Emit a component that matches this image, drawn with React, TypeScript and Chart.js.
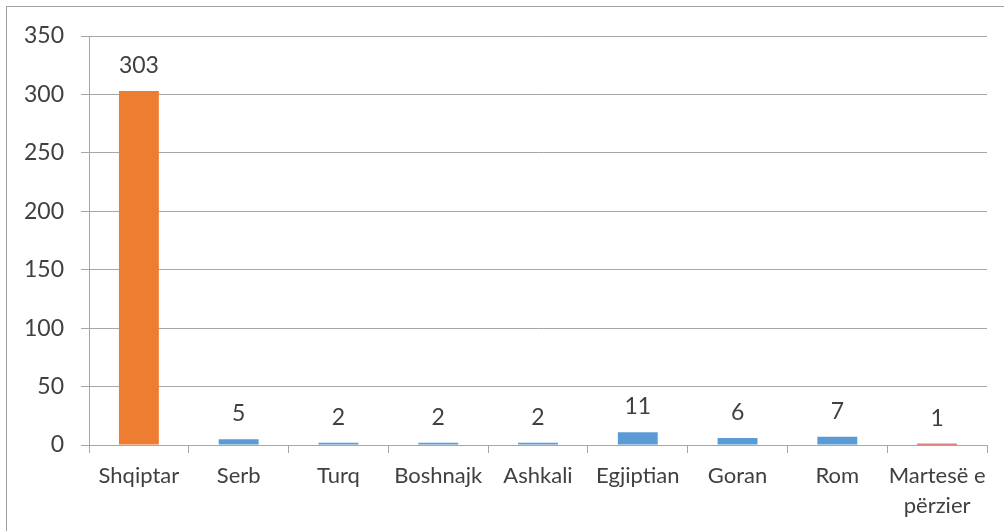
import React, { useEffect, useRef } from "react";
import { Chart, registerables } from "chart.js";

Chart.register(...registerables);

const categories: (string | string[])[] = [
  "Shqiptar",
  "Serb",
  "Turq",
  "Boshnajk",
  "Ashkali",
  "Egjiptian",
  "Goran",
  "Rom",
  ["Martesë e", "përzier"],
];
const values: number[] = [303, 5, 2, 2, 2, 11, 6, 7, 1];
const barColors: string[] = [
  "#ED7D31",
  "#5B9BD5",
  "#5B9BD5",
  "#5B9BD5",
  "#5B9BD5",
  "#5B9BD5",
  "#5B9BD5",
  "#5B9BD5",
  "#C00000",
];
const yTicks: number[] = [0, 50, 100, 150, 200, 250, 300, 350];

const FONT = "Lato, 'Open Sans', sans-serif";

const valueLabels = {
  id: "valueLabels",
  afterDatasetsDraw(chart: any) {
    const ctx = chart.ctx;
    const meta = chart.getDatasetMeta(0);
    ctx.save();
    ctx.font = `23px ${FONT}`;
    ctx.fillStyle = "#404040";
    ctx.textAlign = "center";
    ctx.textBaseline = "alphabetic";
    meta.data.forEach((bar: any, i: number) => {
      ctx.fillText(String(values[i]), bar.x, bar.y - 18);
    });
    ctx.restore();
  },
};

export default function App() {
  const ref = useRef<HTMLCanvasElement | null>(null);
  useEffect(() => {
    if (!ref.current) return;
    const chart = new Chart(ref.current, {
      type: "bar",
      data: {
        labels: categories,
        datasets: [
          {
            data: values,
            backgroundColor: barColors,
            borderWidth: 0,
            barPercentage: 0.4,
            categoryPercentage: 1,
          },
        ],
      },
      options: {
        responsive: false,
        animation: false,
        layout: { padding: { left: 0, right: 17, top: 36, bottom: 0 } },
        plugins: {
          legend: { display: false },
          tooltip: { enabled: false },
        },
        scales: {
          x: {
            offset: true,
            grid: {
              offset: true,
              drawOnChartArea: false,
              drawTicks: true,
              tickLength: 8,
              color: "#A6A6A6",
            },
            border: { display: true, color: "#A6A6A6" },
            ticks: {
              color: "#404040",
              font: { family: FONT, size: 22, lineHeight: 1.36 },
              padding: 8,
              maxRotation: 0,
              autoSkip: false,
            },
            afterFit: (scale: any) => {
              scale.height = 86;
            },
          },
          y: {
            min: 0,
            max: 350,
            afterBuildTicks: (scale: any) => {
              scale.ticks = yTicks.map((v) => ({ value: v }));
            },
            grid: {
              color: "#A6A6A6",
              tickLength: 8,
            },
            border: { display: true, color: "#A6A6A6" },
            ticks: {
              color: "#404040",
              font: { family: FONT, size: 23 },
              padding: 17,
            },
            afterFit: (scale: any) => {
              scale.width = 89;
            },
          },
        },
      },
      plugins: [valueLabels],
    });
    return () => chart.destroy();
  }, []);

  return (
    <div
      style={{
        position: "fixed",
        left: 0,
        top: 0,
        width: 1004,
        height: 531,
        background: "#fff",
        overflow: "hidden",
      }}
    >
      <div
        style={{
          position: "absolute",
          left: 6,
          top: 6,
          width: 1200,
          height: 800,
          border: "1px solid #A0A0A0",
        }}
      />
      <canvas
        ref={ref}
        width={1004}
        height={531}
        style={{ position: "absolute", left: 0, top: 0, width: 1004, height: 531 }}
      />
    </div>
  );
}
